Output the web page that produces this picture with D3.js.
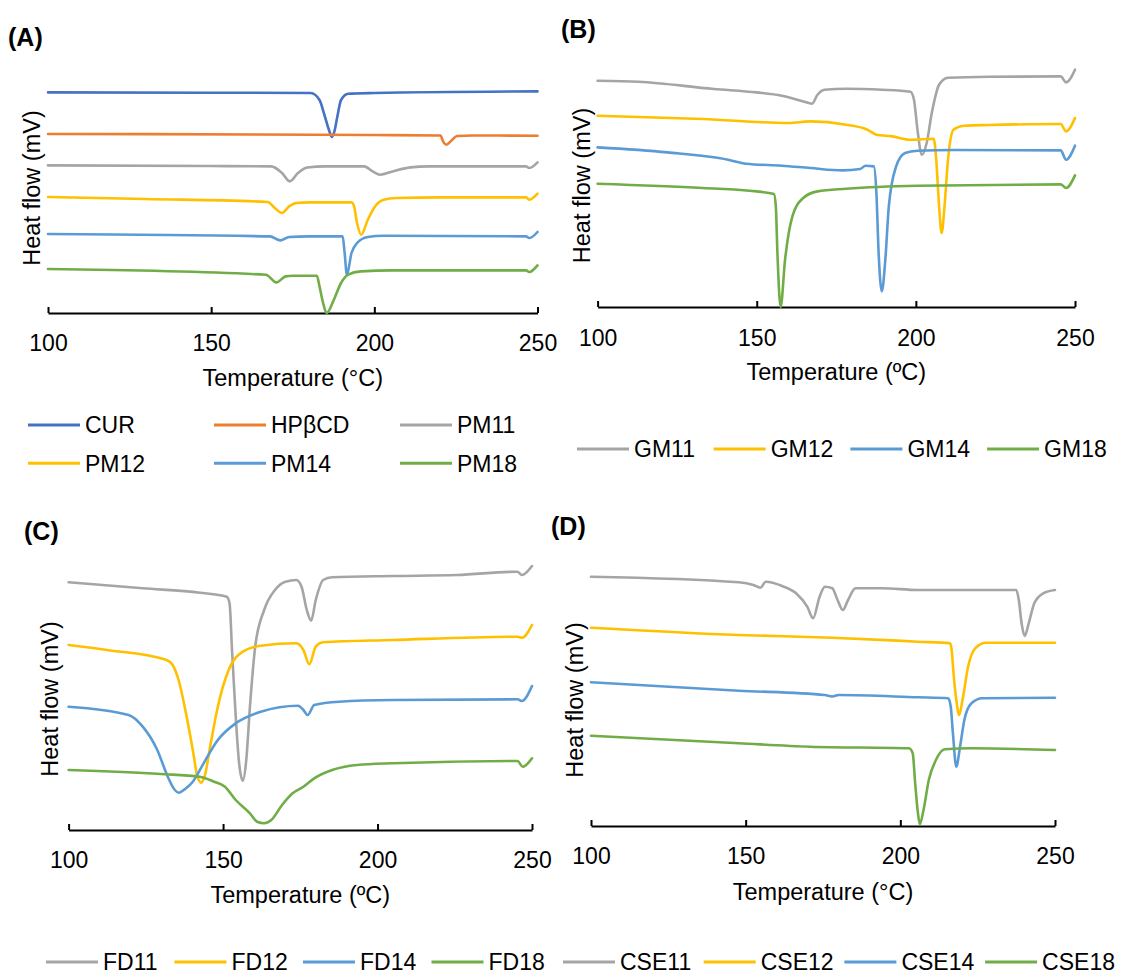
<!DOCTYPE html>
<html lang="en">
<meta charset="UTF-8">
<style>
    body{margin:0;background:#fff;}
    text{font-family:Arial,"Liberation Sans",sans-serif;fill:#000;}
    .curve{fill:none;stroke-width:2.6;stroke-linejoin:round;stroke-linecap:round;}
    .axis path,.axis line{stroke:#000;stroke-width:2;}
</style>
<body>
<div id="chart"></div>
<script src="https://cdn.jsdelivr.net/npm/d3@7"></script>
<script>
    // DSC thermograms, heat flow in arbitrary offset units vs temperature (°C)
    var tempTicks = [100, 150, 200, 250];

    // panel A
    var CUR = [[100,220.6],[150,220.3],[180.5,220],[183.2,213],[184.8,197],[186.2,182],[187,176],[187.8,182],[188.7,197],[189.8,213],[192,219.3],[200,220],[250,221.6]];
    var HPBCD = [[100,179],[200,178],[220.3,177.5],[221,172],[222.1,168.3],[223.5,172],[225.3,177],[230,177.5],[250,177.3]];
    var PM11 = [[100,147.6],[150,147],[168.4,146.6],[171.7,140],[174.1,131.6],[176.6,140],[179.4,145.5],[185,146.6],[196.9,146.6],[199.5,141.6],[201.8,138.3],[205.6,141.6],[211.1,145.6],[216.6,146.6],[246.5,146.6],[247.5,145],[250,150.6]];
    var PM12 = [[100,116],[130,114],[167.3,111],[169.5,105],[171.7,100],[173.9,106.6],[176.1,110],[180,110.6],[193,110.6],[193.8,106.6],[194.7,90],[196,78.3],[198,93.3],[200.2,106.6],[202.9,113.3],[206.7,115],[220,115.6],[246.5,115.6],[247.5,113.3],[250,119.3]];
    var PM14 = [[100,79],[168,76.6],[171.2,72.6],[173.9,76],[180,76.6],[190.3,76.6],[190.9,60],[191.6,38.3],[193,60],[194.7,70],[198,76],[202.9,77.3],[246.5,76.6],[247.5,75],[250,81]];
    var PM18 = [[100,44],[166.8,38.3],[170,30.6],[172.8,36.6],[175,37.3],[182.4,37.3],[183.2,26.6],[184.3,10],[185.4,0],[187.6,13.3],[189.8,30],[192,38.3],[195.8,41.6],[205.6,42.6],[246.5,42.6],[247.5,41],[250,47.6]];

    // panel B
    var GM11 = [[100,226.3],[112.9,225.3],[136.5,218],[150,214.6],[157.9,211.3],[164.6,205.6],[167.4,203.3],[169.1,212.3],[171.3,217.3],[178.1,218.3],[189.3,217.3],[198.3,215.3],[199.4,207.3],[200.5,177.3],[201.9,152.3],[203.4,164],[205,194],[207.3,222.3],[210.1,229.3],[223,230.3],[245.5,230.6],[247.2,224.6],[250,237.3]];
    var GM12 = [[100,191.3],[133.1,188],[160.1,184],[166.8,185.6],[178.1,182.3],[184.8,177.3],[187.6,172.3],[192.6,170.6],[198.3,167.3],[205.6,168.3],[206.4,147.3],[207.3,100.6],[208.1,74],[209,100.6],[210.1,147.3],[211.8,177.3],[215.2,181.3],[223,182],[245.5,183],[247.2,175.6],[250,189]];
    var GM14 = [[100,159.6],[121.9,154.6],[141,147.3],[146.7,143.3],[157.9,141.3],[166.8,139],[176.9,136.6],[182.5,138],[184.2,141.3],[186.8,140.6],[187.6,114],[188.3,54],[189.3,15.6],[190.4,47.3],[191.5,100.6],[193.8,140.6],[196.6,154],[200.5,156.3],[211.8,157],[245.5,156.6],[247.2,147.3],[250,161.3]];
    var GM18 = [[100,123.3],[133.1,119],[150,115.6],[155.4,113],[156,100.6],[156.5,54],[157.5,0],[158.9,47.3],[161.2,90.6],[164.6,109],[169.1,115.6],[178.1,118.3],[200.5,121.3],[245.5,122.6],[247.2,119],[250,131.6]];

    // panel C
    var FD11 = [[100,247.7],[124,241.7],[142.5,237.3],[151.2,233.3],[152.1,226.7],[152.9,180],[154.1,113.3],[155.2,66.7],[156.4,49.3],[157.5,69.7],[158.7,123.3],[160.4,183.3],[163.3,220],[166.8,240],[170.2,248.3],[173.7,250],[175.4,243.3],[177.1,220],[178.5,209.3],[180,230],[182.4,250],[185.3,252.7],[204.9,254],[225.7,255],[245.3,258.3],[246.7,255],[250,264]];
    var FD12 = [[100,185],[112.5,180],[131,170.7],[133.3,166.7],[135.6,150],[138,116.7],[140.2,80],[141.7,53.3],[142.9,47.3],[144,53.3],[146,86.7],[148.3,123.3],[151.8,160],[156.4,178.3],[162.2,184.3],[173.7,186.7],[176,180],[177.9,165.7],[180,183.3],[182.4,187.7],[204.9,190],[245.3,193.3],[246.7,192.3],[250,205]];
    var FD14 = [[100,123.3],[119.4,115],[124,103.3],[128.7,80],[132.1,53.3],[134.4,40],[135.6,37.3],[138,41.7],[140.2,48.3],[143.7,66.7],[148.3,90],[154.1,106.7],[162.2,118.3],[174.3,124.3],[176,120],[177.4,115],[179.5,125],[187.6,128.3],[204.9,130],[245.3,130.7],[246.7,129],[250,144]];
    var FD18 = [[100,60],[129.8,56],[142.5,53.3],[147.1,48.3],[150.6,43.3],[154.1,30],[158.7,16.7],[161,8.3],[163.3,6.7],[165.6,10],[169.1,25],[172.5,36.7],[176,43.3],[179.5,51.7],[185.3,60],[193.4,65],[204.9,66.7],[245.3,69],[247,63.3],[250,71.7]];

    // panel D
    var CSE11 = [[100,249.3],[147.8,243.7],[152.5,241],[154.8,238.3],[156.5,244.3],[161.8,240],[166.3,232.7],[169.9,219.3],[171.8,207.7],[173.9,229.3],[175.6,239.3],[178,237.7],[179.7,226],[181.4,216],[183.1,226],[185.5,237.7],[194.1,237.7],[205.7,236],[237.5,236],[238.3,226],[239.2,202.7],[240.2,190],[241.5,202.7],[243.3,222.7],[246.2,232.7],[250,236]];
    var CSE12 = [[100,198.3],[147.8,191],[178,188.3],[205.7,184.3],[216.1,182.7],[216.6,176],[217.2,152.7],[218.1,126],[219,111],[220.1,126],[221.9,159.3],[224.2,177.7],[227.7,183.3],[250,183.3]];
    var CSE14 = [[100,143.7],[147.8,135.3],[175.6,131],[178,129.5],[180,131],[205.7,128.7],[215.5,127.7],[216.3,119.3],[217,92.7],[218.1,59.3],[219.3,79.3],[220.7,106],[223,122.7],[226.5,127.7],[250,128.3]];
    var CSE18 = [[100,90.3],[147.8,82.7],[170.9,79.3],[202.8,77.7],[204,72.7],[204.8,42.7],[205.7,12.7],[206.3,2],[207.5,16],[209.2,46],[211.5,66],[214.4,76.7],[223,77.7],[250,76]];

    var colors = {
        CUR:"#4472C4", HPBCD:"#ED7D31", gray:"#A5A5A5",
        yellow:"#FFC000", blue:"#5B9BD5", green:"#70AD47"
    };

    var width = 1121, height = 974;
    var svg = d3.select("#chart").append("svg")
        .attr("width", width)
        .attr("height", height);

    var panels = [
        {tag:"(A)", tagX:8, tagY:46, x0:48, x1:537.5, axisY:313, yTitleX:32, yTitleY:188, tickY:343, xTitleY:378, unit:"°C",
         series:[[CUR,colors.CUR],[HPBCD,colors.HPBCD],[PM11,colors.gray],[PM12,colors.yellow],[PM14,colors.blue],[PM18,colors.green]]},
        {tag:"(B)", tagX:561, tagY:38, x0:597.6, x1:1075, axisY:307, yTitleX:581.5, yTitleY:185.5, tickY:338, xTitleY:371.7, unit:"ºC",
         series:[[GM11,colors.gray],[GM12,colors.yellow],[GM14,colors.blue],[GM18,colors.green]]},
        {tag:"(C)", tagX:24, tagY:540, x0:68.6, x1:532, axisY:830, yTitleX:50, yTitleY:699, tickY:859.3, xTitleY:895, unit:"ºC",
         series:[[FD11,colors.gray],[FD12,colors.yellow],[FD14,colors.blue],[FD18,colors.green]]},
        {tag:"(D)", tagX:551, tagY:535, x0:591, x1:1055, axisY:826, yTitleX:574.3, yTitleY:700, tickY:856, xTitleY:891.7, unit:"°C",
         series:[[CSE11,colors.gray],[CSE12,colors.yellow],[CSE14,colors.blue],[CSE18,colors.green]]}
    ];

    panels.forEach(function(p){
        var x = d3.scaleLinear().domain([100,250]).range([p.x0, p.x1]);
        var y = d3.scaleLinear().domain([0,270]).range([p.axisY, p.axisY-270]);

        var line = d3.line()
            .x(function(d){return x(d[0]);})
            .y(function(d){return y(d[1]);})
            .curve(d3.curveMonotoneX);

        var g = svg.append("g");

        // axis with inside ticks
        var ax = g.append("g")
            .attr("class","axis")
            .attr("transform","translate(0,"+p.axisY+")")
            .call(d3.axisBottom(x).tickValues(tempTicks).tickSizeInner(-6).tickSizeOuter(0).tickFormat(d3.format("d")));
        ax.selectAll("text")
            .attr("y", p.tickY-p.axisY)
            .attr("dy","0.36em")
            .style("font-size","23px")
            .attr("fill","#000");

        g.selectAll("path.curve")
            .data(p.series)
            .enter().append("path")
            .attr("class","curve")
            .attr("stroke", function(d){return d[1];})
            .attr("d", function(d){return line(d[0]);});

        g.append("text")
            .attr("x", p.tagX)
            .attr("y", p.tagY)
            .style("font-size","25px")
            .style("font-weight","bold")
            .text(p.tag);

        g.append("text")
            .attr("transform","translate("+p.yTitleX+","+p.yTitleY+") rotate(-90)")
            .attr("text-anchor","middle")
            .attr("dy","0.36em")
            .style("font-size","23.5px")
            .text("Heat flow (mV)");

        g.append("text")
            .attr("x", (p.x0+p.x1)/2)
            .attr("y", p.xTitleY)
            .attr("text-anchor","middle")
            .attr("dy","0.36em")
            .style("font-size","23.5px")
            .text("Temperature ("+p.unit+")");
    });

    // legends
    var legendA = [["CUR",colors.CUR],["HPβCD",colors.HPBCD],["PM11",colors.gray],["PM12",colors.yellow],["PM14",colors.blue],["PM18",colors.green]];
    var legendB = [["GM11",colors.gray],["GM12",colors.yellow],["GM14",colors.blue],["GM18",colors.green]];
    var legendC = [["FD11",colors.gray],["FD12",colors.yellow],["FD14",colors.blue],["FD18",colors.green]];
    var legendD = [["CSE11",colors.gray],["CSE12",colors.yellow],["CSE14",colors.blue],["CSE18",colors.green]];

    function drawLegend(items, posFn){
        var lg = svg.append("g").selectAll("g")
            .data(items)
            .enter().append("g")
            .attr("transform", function(d,i){var p = posFn(i); return "translate("+p[0]+","+p[1]+")";});
        lg.append("line")
            .attr("x1",0).attr("x2",52)
            .attr("y1",0).attr("y2",0)
            .attr("stroke", function(d){return d[1];})
            .attr("stroke-width",3);
        lg.append("text")
            .attr("x",57)
            .attr("dy","0.36em")
            .style("font-size","23px")
            .text(function(d){return d[0];});
    }

    drawLegend(legendA, function(i){return [28 + (i%3)*186, 425 + Math.floor(i/3)*38.3];});
    drawLegend(legendB, function(i){return [577 + i*136.7, 449];});
    drawLegend(legendC, function(i){return [46 + i*128.5, 962];});
    drawLegend(legendD, function(i){return [563 + i*140.7, 962];});
</script>
</body>
</html>
